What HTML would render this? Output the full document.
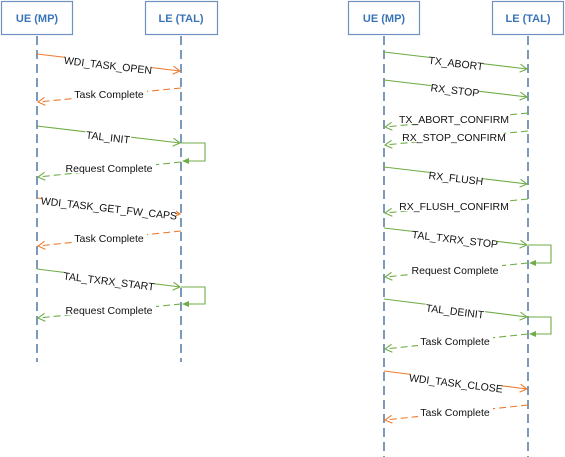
<!DOCTYPE html>
<html><head><meta charset="utf-8"><style>
html,body{margin:0;padding:0;background:#fff;}
svg{display:block;}
text{font-family:"Liberation Sans",sans-serif;font-size:10.5px;fill:#111;}
.box{fill:#fff;stroke:#6f93c0;stroke-width:1.2;}
.hd{font-size:11px;font-weight:bold;fill:#3a74b8;}
.life{stroke:#5b80a8;stroke-width:1.6;stroke-dasharray:9,5;}
.o{stroke:#ed7d31;stroke-width:1.1;fill:none;}
.g{stroke:#70ad47;stroke-width:1.1;fill:none;}
.d{stroke-dasharray:7,4;}
.bg{fill:#fff;}
</style></head><body>
<svg width="565" height="457" viewBox="0 0 565 457" xmlns="http://www.w3.org/2000/svg">
<defs>
<marker id="ao" markerWidth="10" markerHeight="10" refX="8" refY="5" orient="auto" markerUnits="userSpaceOnUse"><path d="M1,1 L8,5 L1,9" fill="none" stroke="#ed7d31" stroke-width="1.1"/></marker>
<marker id="ag" markerWidth="10" markerHeight="10" refX="8" refY="5" orient="auto" markerUnits="userSpaceOnUse"><path d="M1,1 L8,5 L1,9" fill="none" stroke="#70ad47" stroke-width="1.1"/></marker>
<marker id="fg" markerWidth="8" markerHeight="8" refX="6" refY="4" orient="auto" markerUnits="userSpaceOnUse"><path d="M0,1 L7,4 L0,7 Z" fill="#70ad47"/></marker>
</defs>

<rect class="box" x="1.5" y="1.5" width="71" height="33"/><text class="hd" x="37" y="22" text-anchor="middle">UE (MP)</text>
<rect class="box" x="145.5" y="1.5" width="72" height="33"/><text class="hd" x="181" y="22" text-anchor="middle">LE (TAL)</text>
<rect class="box" x="348.5" y="1.5" width="71" height="33"/><text class="hd" x="384" y="22" text-anchor="middle">UE (MP)</text>
<rect class="box" x="492.5" y="1.5" width="71" height="33"/><text class="hd" x="528" y="22" text-anchor="middle">LE (TAL)</text>

<line class="life" x1="37" y1="36" x2="37" y2="362"/>
<line class="life" x1="181" y1="36" x2="181" y2="362"/>
<line class="life" x1="384" y1="36" x2="384" y2="457"/>
<line class="life" x1="528" y1="36" x2="528" y2="457"/>

<line class="o" x1="37" y1="54" x2="180" y2="71" marker-end="url(#ao)"/>
<g transform="translate(108,65) rotate(6.7)"><rect class="bg" x="-43" y="-6" width="86" height="11"/><text x="0" y="4" text-anchor="middle">WDI_TASK_OPEN</text></g>

<line class="o d" x1="181" y1="88" x2="38" y2="102" marker-end="url(#ao)"/>
<rect class="bg" x="72" y="88" width="75" height="11"/><text x="109" y="98" text-anchor="middle">Task Complete</text>

<line class="g" x1="37" y1="126" x2="180" y2="143" marker-end="url(#ag)"/>
<g transform="translate(108,137) rotate(6.7)"><rect class="bg" x="-23" y="-6" width="46" height="11"/><text x="0" y="4" text-anchor="middle">TAL_INIT</text></g>
<polyline class="g" points="181,143 205,143 205,161 183,161" marker-end="url(#fg)"/>
<line class="g d" x1="181" y1="162" x2="38" y2="177" marker-end="url(#ag)"/>
<rect class="bg" x="62" y="162" width="94" height="11"/><text x="109" y="172" text-anchor="middle">Request Complete</text>

<line class="o" x1="37" y1="198" x2="180" y2="214" marker-end="url(#ao)"/>
<g transform="translate(109,208) rotate(6.5)"><rect class="bg" x="-67" y="-6" width="134" height="11"/><text x="0" y="4" text-anchor="middle">WDI_TASK_GET_FW_CAPS</text></g>

<line class="o d" x1="181" y1="231" x2="38" y2="246" marker-end="url(#ao)"/>
<rect class="bg" x="72" y="232" width="75" height="11"/><text x="109" y="242" text-anchor="middle">Task Complete</text>

<line class="g" x1="37" y1="269" x2="180" y2="287" marker-end="url(#ag)"/>
<g transform="translate(109,281) rotate(7)"><rect class="bg" x="-44" y="-6" width="88" height="11"/><text x="0" y="4" text-anchor="middle">TAL_TXRX_START</text></g>
<polyline class="g" points="181,287 205,287 205,304 183,304" marker-end="url(#fg)"/>
<line class="g d" x1="181" y1="304" x2="38" y2="318" marker-end="url(#ag)"/>
<rect class="bg" x="62" y="304" width="94" height="11"/><text x="109" y="314" text-anchor="middle">Request Complete</text>

<line class="g" x1="384" y1="52" x2="527" y2="69" marker-end="url(#ag)"/>
<g transform="translate(456,63) rotate(6.7)"><rect class="bg" x="-27" y="-6" width="54" height="11"/><text x="0" y="4" text-anchor="middle">TX_ABORT</text></g>

<line class="g" x1="384" y1="80" x2="527" y2="97" marker-end="url(#ag)"/>
<g transform="translate(455,90) rotate(6.7)"><rect class="bg" x="-24" y="-6" width="48" height="11"/><text x="0" y="4" text-anchor="middle">RX_STOP</text></g>

<line class="g d" x1="528" y1="113" x2="385" y2="127" marker-end="url(#ag)"/>
<rect class="bg" x="400" y="113" width="108" height="11"/><text x="454" y="123" text-anchor="middle">TX_ABORT_CONFIRM</text>

<line class="g d" x1="528" y1="131" x2="385" y2="145" marker-end="url(#ag)"/>
<rect class="bg" x="404" y="131" width="100" height="11"/><text x="454" y="141" text-anchor="middle">RX_STOP_CONFIRM</text>

<line class="g" x1="384" y1="167" x2="527" y2="184" marker-end="url(#ag)"/>
<g transform="translate(456,178) rotate(6.7)"><rect class="bg" x="-26" y="-6" width="52" height="11"/><text x="0" y="4" text-anchor="middle">RX_FLUSH</text></g>

<line class="g d" x1="528" y1="199" x2="385" y2="213" marker-end="url(#ag)"/>
<rect class="bg" x="400" y="200" width="108" height="11"/><text x="454" y="210" text-anchor="middle">RX_FLUSH_CONFIRM</text>

<line class="g" x1="384" y1="228" x2="527" y2="245" marker-end="url(#ag)"/>
<g transform="translate(455,239) rotate(6.7)"><rect class="bg" x="-42" y="-6" width="84" height="11"/><text x="0" y="4" text-anchor="middle">TAL_TXRX_STOP</text></g>
<polyline class="g" points="528,245 551,245 551,263 530,263" marker-end="url(#fg)"/>
<line class="g d" x1="528" y1="263" x2="385" y2="277" marker-end="url(#ag)"/>
<rect class="bg" x="408" y="264" width="94" height="11"/><text x="455" y="274" text-anchor="middle">Request Complete</text>

<line class="g" x1="384" y1="299" x2="527" y2="317" marker-end="url(#ag)"/>
<g transform="translate(455,311) rotate(7)"><rect class="bg" x="-30" y="-6" width="60" height="11"/><text x="0" y="4" text-anchor="middle">TAL_DEINIT</text></g>
<polyline class="g" points="528,317 551,317 551,334 530,334" marker-end="url(#fg)"/>
<line class="g d" x1="528" y1="334" x2="385" y2="349" marker-end="url(#ag)"/>
<rect class="bg" x="418" y="335" width="75" height="11"/><text x="455" y="345" text-anchor="middle">Task Complete</text>

<line class="o" x1="384" y1="371" x2="527" y2="389" marker-end="url(#ao)"/>
<g transform="translate(456,383) rotate(7)"><rect class="bg" x="-46" y="-6" width="92" height="11"/><text x="0" y="4" text-anchor="middle">WDI_TASK_CLOSE</text></g>

<line class="o d" x1="528" y1="405" x2="385" y2="420" marker-end="url(#ao)"/>
<rect class="bg" x="418" y="406" width="75" height="11"/><text x="455" y="416" text-anchor="middle">Task Complete</text>
</svg>
</body></html>
